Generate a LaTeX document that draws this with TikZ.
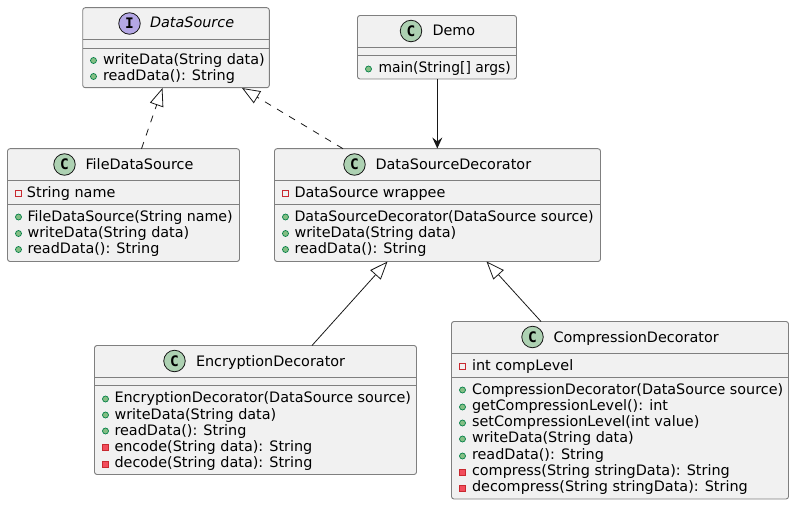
\documentclass[tikz,border=0pt]{standalone}
\usepackage{fontspec}
\usepackage{graphicx}
\setmainfont{DejaVu Sans}
\newfontfamily\spotfont{DejaVu Sans Mono}
\usetikzlibrary{arrows.meta}
\definecolor{boxfill}{HTML}{F1F1F1}
\definecolor{boxline}{HTML}{7F7F7F}
\definecolor{cspot}{HTML}{ADD1B2}
\definecolor{ispot}{HTML}{B4A7E5}
\definecolor{pubfill}{HTML}{84BE84}
\definecolor{publine}{HTML}{038048}
\definecolor{privfill}{HTML}{F24D5C}
\definecolor{privline}{HTML}{C82930}
\definecolor{edge}{HTML}{181818}
\tikzset{
  x=1pt,y=-1pt,
  umlbox/.style={draw=boxline,fill=boxfill,line width=0.9pt,rounded corners=2.5pt},
  sep/.style={draw=boxline,line width=0.9pt},
  txt/.style={anchor=base west,inner sep=0pt,outer sep=0pt,font=\fontsize{14.4}{16}\selectfont,text=black},
  spot/.style={circle,draw=edge,line width=0.8pt,minimum size=21.5pt,inner sep=0pt,font=\spotfont\bfseries\fontsize{14.5}{16}\selectfont},
  pub/.style={circle,draw=publine,fill=pubfill,line width=0.7pt,minimum size=6pt,inner sep=0pt},
  priv/.style={rectangle,draw=privline,fill=privfill,line width=0.7pt,minimum size=6pt,inner sep=0pt},
  privopen/.style={rectangle,draw=privline,fill=none,line width=0.7pt,minimum size=6pt,inner sep=0pt},
  realize/.style={draw=edge,line width=0.8pt,dash pattern=on 7pt off 7pt,-{Triangle[open,fill=white,length=18pt,width=14pt]}},
  extends/.style={draw=edge,line width=0.8pt,-{Triangle[open,fill=white,length=18pt,width=14pt]}},
  assoc/.style={draw=edge,line width=0.9pt,-{Stealth[length=11pt,width=10pt,inset=4pt]}},
}
\newcommand{\umlbox}[7]{% name, x0,y0,x1,y1, sep1, sep2
  \path[umlbox] (#2,#3) rectangle (#4,#5);
  \coordinate (#1-nw) at (#2,#3);
  \draw[sep] (#2,#6) -- (#4,#6);
  \draw[sep] (#2,#7) -- (#4,#7);
}
\newcommand{\fitx}[2]{\scalebox{#1}[1]{#2}}
\begin{document}
\begin{tikzpicture}
\useasboundingbox (0,0) rectangle (794,505);
\umlbox{ds}{82.7}{7.7}{269.3}{87.7}{39.5}{48}
\node[spot,fill=ispot] (dsS) at (129.5,23.5) {I};
\node[txt,font=\itshape\fontsize{14.4}{16}\selectfont] (dsN) at (150,28) {DataSource};
\node[pub] (ds1) at (93.5,60.5) {}; \node[txt] (ds1t) at (103,64.5) {writeData(String data)};
\node[pub] (ds2) at (93.5,76.5) {}; \node[txt] (ds2t) at (103,80.5) {readData(): String};

\umlbox{dm}{357.5}{15.5}{516.5}{79}{47}{55.5}
\node[spot,fill=cspot] (dmS) at (411,31) {C};
\node[txt] (dmN) at (432.5,36) {Demo};
\node[pub] (dm1) at (368.5,69) {}; \node[txt] (dm1t) at (378.5,72.5) {\fitx{.965}{main(String[] args)}};

\umlbox{fd}{7.5}{148.7}{239.5}{261.5}{180.3}{204}
\node[spot,fill=cspot] (fdS) at (64.5,164.5) {C};
\node[txt] (fdN) at (85.5,169) {FileDataSource};
\node[privopen] (fd0) at (18.5,193) {}; \node[txt] (fd0t) at (27,197) {String name};
\node[pub] (fd1) at (18.5,217) {}; \node[txt] (fd1t) at (27.5,221) {\fitx{.989}{FileDataSource(String name)}};
\node[pub] (fd2) at (18.5,233.5) {}; \node[txt] (fd2t) at (27.5,237.5) {writeData(String data)};
\node[pub] (fd3) at (18.5,249.5) {}; \node[txt] (fd3t) at (27.5,253.5) {readData(): String};

\umlbox{dd}{274.5}{148.7}{600.5}{261.5}{180.3}{204}
\node[spot,fill=cspot] (ddS) at (354.5,164.5) {C};
\node[txt] (ddN) at (375.5,169) {DataSourceDecorator};
\node[privopen] (dd0) at (285.5,193) {}; \node[txt] (dd0t) at (294.5,197) {DataSource wrappee};
\node[pub] (dd1) at (285.5,217) {}; \node[txt] (dd1t) at (294.5,221) {\fitx{.987}{DataSourceDecorator(DataSource source)}};
\node[pub] (dd2) at (285.5,233.5) {}; \node[txt] (dd2t) at (294.5,237.5) {writeData(String data)};
\node[pub] (dd3) at (285.5,249.5) {}; \node[txt] (dd3t) at (294.5,253.5) {readData(): String};

\umlbox{en}{94.5}{345.5}{416.5}{474.5}{377.3}{385.3}
\node[spot,fill=cspot] (enS) at (174.5,361) {C};
\node[txt] (enN) at (196,366) {EncryptionDecorator};
\node[pub] (en1) at (105.5,399) {}; \node[txt] (en1t) at (114.5,402.5) {EncryptionDecorator(DataSource source)};
\node[pub] (en2) at (105.5,415) {}; \node[txt] (en2t) at (114.5,419) {writeData(String data)};
\node[pub] (en3) at (105.5,431) {}; \node[txt] (en3t) at (114.5,435) {readData(): String};
\node[priv] (en4) at (105.5,447.5) {}; \node[txt] (en4t) at (114.5,451) {encode(String data): String};
\node[priv] (en5) at (105.5,464) {}; \node[txt] (en5t) at (114.5,467.5) {decode(String data): String};

\umlbox{cp}{451.5}{321.5}{788.5}{499}{353}{377}
\node[spot,fill=cspot] (cpS) at (532.5,337) {C};
\node[txt] (cpN) at (553.5,342) {CompressionDecorator};
\node[privopen] (cp0) at (462.5,366) {}; \node[txt] (cp0t) at (472,370) {int compLevel};
\node[pub] (cp1) at (462.5,390) {}; \node[txt] (cp1t) at (472,394) {\fitx{.995}{CompressionDecorator(DataSource source)}};
\node[pub] (cp2) at (462.5,407) {}; \node[txt] (cp2t) at (472,410.5) {getCompressionLevel(): int};
\node[pub] (cp3) at (462.5,423) {}; \node[txt] (cp3t) at (472,426.5) {setCompressionLevel(int value)};
\node[pub] (cp4) at (462.5,439) {}; \node[txt] (cp4t) at (472,442.5) {writeData(String data)};
\node[pub] (cp5) at (462.5,456) {}; \node[txt] (cp5t) at (472,459) {readData(): String};
\node[priv] (cp6) at (462.5,472) {}; \node[txt] (cp6t) at (472,475) {compress(String stringData): String};
\node[priv] (cp7) at (462.5,488) {}; \node[txt] (cp7t) at (472,491.5) {decompress(String stringData): String};

\coordinate (a1s) at (141.5,148.7); \coordinate (a1e) at (162.5,88);
\coordinate (a2s) at (343,148.7); \coordinate (a2e) at (242,88);
\coordinate (a3s) at (437.3,79); \coordinate (a3e) at (437.3,148.5);
\coordinate (a4s) at (312,345.5); \coordinate (a4e) at (387.5,261.5);
\coordinate (a5s) at (541,321.5); \coordinate (a5e) at (486.5,261.5);
\draw[realize] (a1s) -- (a1e);
\draw[realize] (a2s) -- (a2e);
\draw[assoc] (a3s) -- (a3e);
\draw[extends] (a4s) -- (a4e);
\draw[extends] (a5s) -- (a5e);
\end{tikzpicture}
\end{document}
